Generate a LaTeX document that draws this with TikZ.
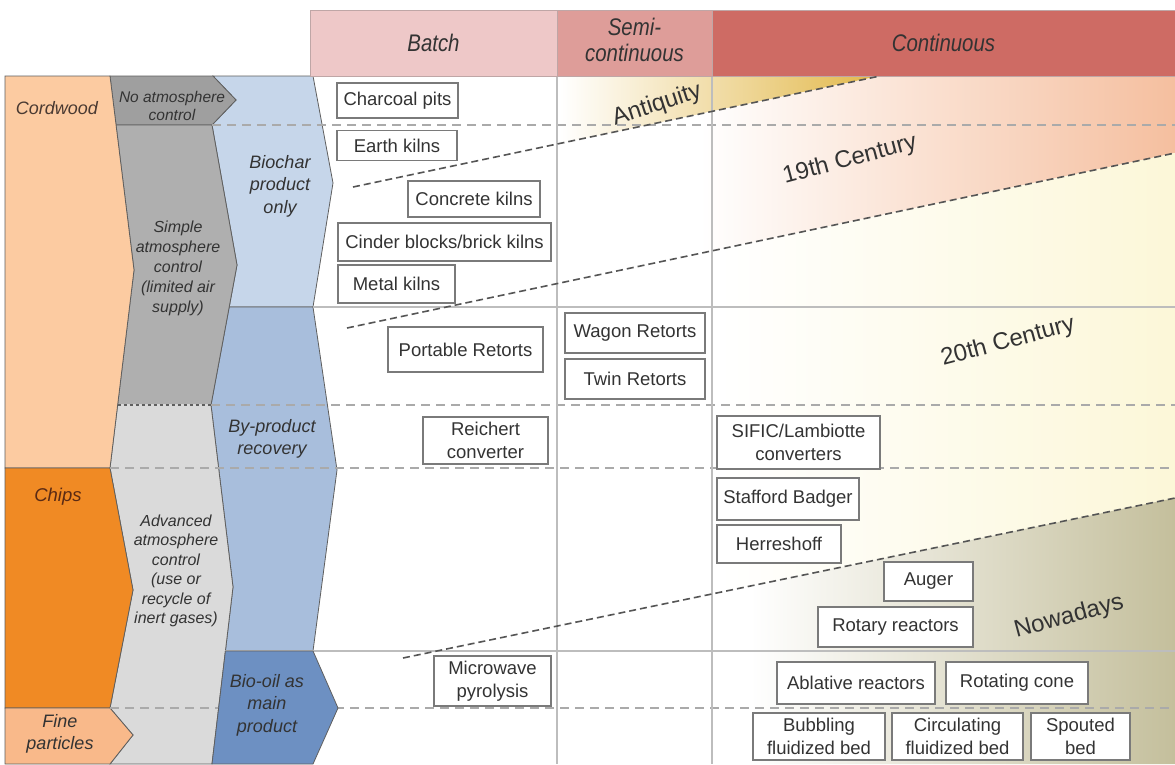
\documentclass[tikz,border=0pt]{standalone}
\usepackage{fontspec}
\setmainfont{Liberation Sans}
\definecolor{txt}{HTML}{333333}
\definecolor{cordtxt}{HTML}{4A3A32}
\definecolor{chipstxt}{HTML}{5A2A14}
\definecolor{cordfill}{HTML}{FCCBA1}
\definecolor{chipsfill}{HTML}{F08A24}
\definecolor{finefill}{HTML}{F9B98A}
\definecolor{noatmfill}{HTML}{9F9F9F}
\definecolor{simplefill}{HTML}{AFAFAF}
\definecolor{advfill}{HTML}{DADADA}
\definecolor{biofill}{HTML}{C6D6EA}
\definecolor{bypfill}{HTML}{A8BEDC}
\definecolor{oilfill}{HTML}{6D90C2}
\definecolor{edgegray}{HTML}{5F5F5F}
\definecolor{rowgray}{HTML}{AAAAAA}
\definecolor{gridgray}{HTML}{BDBDBD}
\definecolor{diaggray}{HTML}{555555}
\definecolor{boxline}{HTML}{7A7A7A}
\definecolor{hbatchc}{HTML}{EEC8C8}
\definecolor{hsemic}{HTML}{DE9D99}
\definecolor{hcontc}{HTML}{CE6B64}
\definecolor{hdrline}{HTML}{BFA6A6}
\definecolor{goldc}{HTML}{E2B84A}
\definecolor{peachc}{HTML}{F5BF9F}
\definecolor{paley}{HTML}{FCF7D8}
\definecolor{khakimid}{HTML}{E4E1CB}
\definecolor{khakic}{HTML}{C4BF9C}
\newcommand{\mylf}[2]{\itshape\fontsize{#1}{#2}\selectfont}
\newcommand{\myhf}{\itshape\fontsize{24}{26}\selectfont}
\begin{document}
\begin{tikzpicture}[x=1pt,y=-1pt,
  boxn/.style={draw=boxline, line width=1.4pt, fill=white, text=txt,
    font=\fontsize{18.5}{23}\selectfont, align=center, inner sep=0pt},
  lbl/.style={text=txt, align=center, inner sep=0pt},
  era/.style={text=txt, font=\fontsize{24}{28}\selectfont, inner sep=0pt},
  rowdash/.style={draw=rowgray, line width=1.2pt, dash pattern=on 9pt off 6pt},
  rowsolid/.style={draw=gridgray, line width=1.4pt},
  diag/.style={draw=diaggray, line width=1.6pt, dash pattern=on 7pt off 4pt},
  shapeline/.style={draw=edgegray, line width=0.8pt},
  hdrcell/.style={draw=hdrline, line width=0.8pt, inner sep=0pt, text=txt}]
\useasboundingbox (0,0) rectangle (1175,764);
\fill[white] (0,0) rectangle (1175,764);

% era boundary coordinates
\coordinate (antA) at (353,187);
\coordinate (antB) at (880,76);
\coordinate (cenA) at (347,328);
\coordinate (cenB) at (1175,153);
\coordinate (nowA) at (403,658);
\coordinate (nowB) at (1175,498);

% background shadings
\begin{scope}
  \clip (antA) -- (antB) -- (353,76) -- cycle;
  \shade[left color=white, right color=goldc] (560,76) rectangle (880,190);
\end{scope}
\begin{scope}
  \clip (antA) -- (antB) -- (1175,76) -- (cenB) -- (cenA) -- cycle;
  \shade[left color=white, right color=peachc] (700,76) rectangle (1175,330);
\end{scope}
\begin{scope}
  \clip (cenA) -- (cenB) -- (nowB) -- (nowA) -- cycle;
  \shade[left color=white, right color=paley] (720,150) rectangle (1175,660);
\end{scope}
\begin{scope}
  \clip (nowA) -- (nowB) -- (1175,764) -- (403,764) -- cycle;
  \shade[left color=white, middle color=khakimid, right color=khakic] (750,490) rectangle (1175,764);
\end{scope}

% left column shapes
\filldraw[shapeline, fill=biofill] (213,76) -- (313,76) -- (333,183) -- (313,307) -- (229.2,307) -- (237,265) -- (212,125) -- (236,100) -- cycle;
\filldraw[shapeline, fill=bypfill] (229.2,307) -- (313,307) -- (337,470) -- (313,651) -- (225.4,651) -- (233,587) -- (211,405) -- cycle;
\filldraw[shapeline, fill=noatmfill] (110,76) -- (213,76) -- (236,100) -- (212,125) -- (116,125) -- cycle;
\filldraw[shapeline, fill=simplefill] (116,125) -- (212,125) -- (237,265) -- (211,405) -- (117.6,405) -- (134,270) -- cycle;
\filldraw[shapeline, fill=advfill] (117.6,405) -- (211,405) -- (233,587) -- (212,764) -- (110,764) -- (133,735) -- (110,708) -- (133,590) -- (110,468) -- cycle;
\filldraw[shapeline, fill=cordfill] (5,76) -- (110,76) -- (134,270) -- (110,468) -- (5,468) -- cycle;
\filldraw[shapeline, fill=chipsfill] (5,468) -- (110,468) -- (133,590) -- (110,708) -- (5,708) -- cycle;
\filldraw[shapeline, fill=finefill] (5,708) -- (110,708) -- (133,735) -- (110,764) -- (5,764) -- cycle;
\draw[draw=advfill, line width=1.2pt] (118.5,405) -- (210.5,405);
\draw[draw=edgegray, line width=1.4pt, dash pattern=on 3pt off 3pt] (117.6,405) -- (211,405);

% row lines
\draw[rowdash] (212,125) -- (1175,125);
\draw[rowsolid] (313,307) -- (1175,307);
\draw[rowdash] (211,405) -- (1175,405);
\draw[rowdash] (110,468) -- (1175,468);
\draw[rowsolid] (225.4,651) -- (1175,651);
\draw[rowdash] (110,708) -- (1175,708);
\filldraw[shapeline, fill=oilfill] (225.4,651) -- (313,651) -- (338,708) -- (313,764) -- (212,764) -- cycle;

% column lines
\draw[rowsolid] (557,76) -- (557,764);
\draw[rowsolid] (712,76) -- (712,764);

% header
\node[hdrcell, fill=hbatchc, minimum width=247pt, minimum height=66pt] (hbatch) at (433.5,43) {\scalebox{0.85}[1]{\myhf Batch}};
\node[hdrcell, fill=hsemic, minimum width=155pt, minimum height=66pt] (hsemi) at (634.5,43) {\scalebox{0.85}[1]{\myhf\begin{tabular}{@{}c@{}}Semi-\\continuous\end{tabular}}};
\node[hdrcell, fill=hcontc, minimum width=463pt, minimum height=66pt] (hcont) at (943.5,43) {\scalebox{0.85}[1]{\myhf Continuous}};

% era dividing lines
\draw[diag] (antA) -- (antB);
\draw[diag] (cenA) -- (cenB);
\draw[diag] (nowA) -- (nowB);

% boxes
\node[boxn, minimum width=121pt, minimum height=35pt] (charcoal) at (397.5,100.5) {Charcoal pits};
\node[boxn, minimum width=120pt, minimum height=30pt] (earth) at (397,145.5) {Earth kilns};
\node[boxn, minimum width=132pt, minimum height=36pt] (concrete) at (474,199) {Concrete kilns};
\node[boxn, minimum width=213pt, minimum height=38pt] (cinder) at (444.5,242) {Cinder blocks/brick kilns};
\node[boxn, minimum width=117pt, minimum height=38pt] (metal) at (396.5,284) {Metal kilns};
\node[boxn, minimum width=155pt, minimum height=45pt] (portable) at (465.5,349.5) {Portable Retorts};
\node[boxn, minimum width=140pt, minimum height=40pt] (wagon) at (635,333) {Wagon Retorts};
\node[boxn, minimum width=140pt, minimum height=40pt] (twin) at (635,379) {Twin Retorts};
\node[boxn, minimum width=125pt, minimum height=47pt] (reichert) at (485.5,440.5) {Reichert\\converter};
\node[boxn, minimum width=117pt, minimum height=50pt] (microwave) at (492.5,681) {Microwave\\pyrolysis};
\node[boxn, minimum width=163pt, minimum height=53pt] (sific) at (798.5,442.5) {SIFIC/Lambiotte\\converters};
\node[boxn, minimum width=142pt, minimum height=42pt] (stafford) at (788,499) {Stafford Badger};
\node[boxn, minimum width=124pt, minimum height=38pt] (herreshoff) at (779,544) {Herreshoff};
\node[boxn, minimum width=89pt, minimum height=39pt] (auger) at (928.5,581.5) {Auger};
\node[boxn, minimum width=155pt, minimum height=40pt] (rotary) at (895.5,627) {Rotary reactors};
\node[boxn, minimum width=158pt, minimum height=42pt] (ablative) at (856,683) {Ablative reactors};
\node[boxn, minimum width=142pt, minimum height=42pt] (cone) at (1017,683) {Rotating cone};
\node[boxn, minimum width=132pt, minimum height=47pt] (bubbling) at (819,736.5) {Bubbling\\fluidized bed};
\node[boxn, minimum width=131pt, minimum height=47pt] (circulating) at (957.5,736.5) {Circulating\\fluidized bed};
\node[boxn, minimum width=99pt, minimum height=47pt] (spouted) at (1080.5,736.5) {Spouted\\bed};

% era labels
\node[era, rotate=18] (antiquity) at (657,105) {Antiquity};
\node[era, rotate=15] (c19) at (850,160) {19th Century};
\node[era, rotate=15] (c20) at (1008,342) {20th Century};
\node[era, rotate=15] (nowadays) at (1069,617) {Nowadays};

% left labels
\node[lbl, text=cordtxt, font=\mylf{18}{21}] (lcord) at (57,108) {Cordwood};
\node[lbl, font=\mylf{15.5}{18}] (lnoatm) at (172,106) {No atmosphere\\control};
\node[lbl, font=\mylf{16}{20}] (lsimple) at (178,268) {Simple\\atmosphere\\control\\(limited air\\supply)};
\node[lbl, font=\mylf{18}{22.5}] (lbio) at (280,186) {Biochar\\product\\only};
\node[lbl, font=\mylf{18}{22}] (lbyp) at (272,439) {By-product\\recovery};
\node[lbl, text=chipstxt, font=\mylf{18.5}{22}] (lchips) at (58,497) {Chips};
\node[lbl, font=\mylf{16}{19.5}] (ladv) at (176,571) {Advanced\\atmosphere\\control\\(use or\\recycle of\\inert gases)};
\node[lbl, font=\mylf{18}{22.5}] (loil) at (267,705) {Bio-oil as\\main\\product};
\node[lbl, font=\mylf{18}{22}] (lfine) at (60,734) {Fine\\particles};
\end{tikzpicture}
\end{document}
